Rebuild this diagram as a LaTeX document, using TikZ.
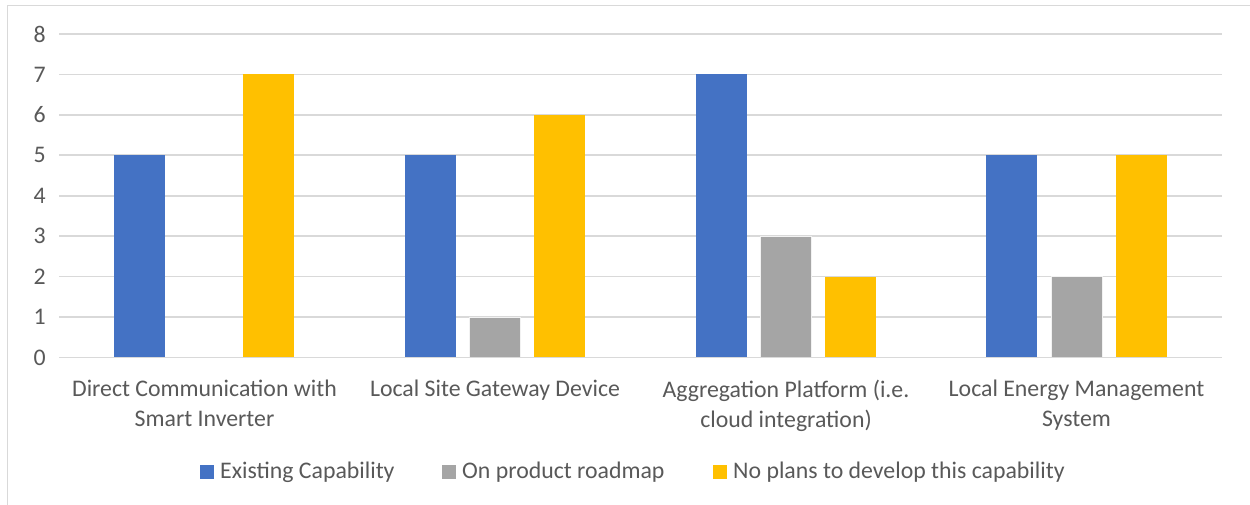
\documentclass[tikz,border=0pt]{standalone}
\usepackage{fontspec}
\setmainfont{Carlito}
\definecolor{cblue}{HTML}{4472C4}
\definecolor{cgray}{HTML}{A5A5A5}
\definecolor{cyellow}{HTML}{FFC000}
\definecolor{ctext}{HTML}{595959}
\definecolor{cgrid}{HTML}{D9D9D9}
\begin{document}
\begin{tikzpicture}[x=1pt,y=1pt,
  grid/.style={draw=cgrid,line width=1.6pt},
  ticklab/.style={text=ctext,font=\fontsize{23.8}{28}\selectfont,anchor=east,inner sep=0pt},
  catlab/.style={text=ctext,font=\fontsize{23.8}{30}\selectfont,align=center,anchor=north,inner sep=0pt},
  leglab/.style={text=ctext,font=\fontsize{23.8}{28}\selectfont,anchor=west,inner sep=0pt},
  barE/.style={fill=cblue},
  barR/.style={fill=cgray,draw=white!85!cgray,line width=0.8pt},
  barN/.style={fill=cyellow},
]
\useasboundingbox (0,0) rectangle (1250,505);
\fill[white] (0,0) rectangle (1250,505);
\draw[draw=cgrid,line width=1.5pt] (7.5,0) -- (7.5,499.5) -- (1250,499.5);
% gridlines: 0 at y=147.5 (505-357.5), unit 40.44
\foreach \v in {1,...,8}{
  \draw[grid] (59,{147.5+40.44*\v}) -- (1222,{147.5+40.44*\v});
}
\foreach \v in {0,...,8}{
  \node[ticklab] (t\v) at (46,{147.5+40.44*\v}) {\v};
}
% bars
\def\bw{51}
\newcommand{\drawbar}[3]{% center, value, style
  \fill[#3] ({#1-\bw/2},147.5) rectangle ({#1+\bw/2},{147.5+40.44*#2});
}
\drawbar{139.5}{5}{barE}
\drawbar{268.5}{7}{barN}
\drawbar{430.5}{5}{barE}
\drawbar{494.5}{1}{barR}
\drawbar{559.5}{6}{barN}
\drawbar{721}{7}{barE}
\drawbar{785.5}{3}{barR}
\drawbar{850.5}{2}{barN}
\drawbar{1011.5}{5}{barE}
\drawbar{1076.5}{2}{barR}
\drawbar{1141}{5}{barN}
\draw[grid] (59,147.5) -- (1222,147.5);
% category labels
\node[catlab] (c1) at (204.5,125) {Direct Communication with\\Smart Inverter};
\node[catlab] (c2) at (495,125) {Local Site Gateway Device};
\node[catlab] (c3) at (786,125) {Aggregation Platform (i.e.\\cloud integration)};
\node[catlab] (c4) at (1076.5,125) {Local Energy Management\\System};
% legend
\fill[cblue] (200,26) rectangle (214,40);
\node[leglab] (l1) at (220,32.5) {Existing Capability};
\fill[cgray] (442,26) rectangle (456,40);
\node[leglab] (l2) at (462,32.5) {On product roadmap};
\fill[cyellow] (713,26) rectangle (727,40);
\node[leglab] (l3) at (733,32.5) {No plans to develop this capability};
\end{tikzpicture}
\end{document}
